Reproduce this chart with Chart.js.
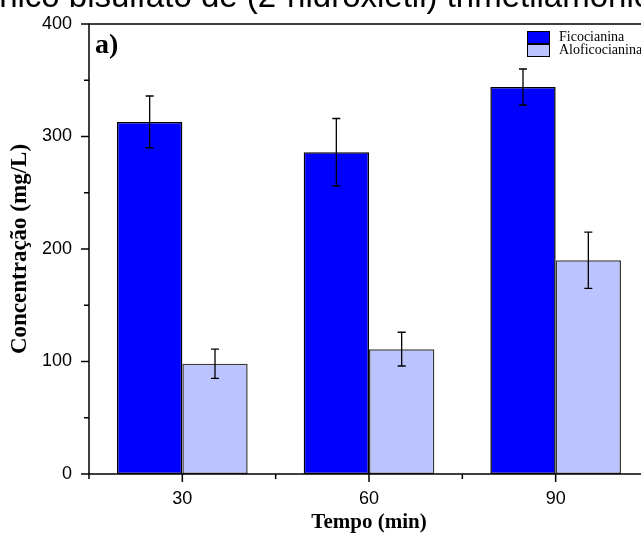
<!DOCTYPE html>
<html>
<head>
<meta charset="utf-8">
<script src="https://cdn.jsdelivr.net/npm/chart.js@4.4.0/dist/chart.umd.min.js"></script>
<style>
  html, body { margin: 0; padding: 0; background: #fff; overflow: hidden; width: 641px; height: 535px; }
  #wrap { position: relative; width: 641px; height: 535px; overflow: hidden; }
  #titulo {
    position: absolute; top: -21px; left: 0; white-space: nowrap;
    font-family: "Liberation Sans", Arial, sans-serif; font-size: 33px; line-height: 33px; color: #000;
  }
  #grafico { position: absolute; left: 0; top: 0; }
</style>
</head>
<body>
<div id="wrap">
  <canvas id="grafico" width="650" height="535"></canvas>
  <div id="titulo"><span id="pre">Líquido iô</span>nico bisulfato de (2-hidroxietil) trimetilamônio</div>
</div>
<script>
// dados
var tempos = ['30', '60', '90'];
var ficocianina = [313, 286, 344];
var ficoErro = [23, 30, 16];
var aloficocianina = [98, 111, 190];
var aloErro = [13, 15, 25];
var yTicks = [0, 100, 200, 300, 400];

var serif = '"Liberation Serif", "Times New Roman", serif';
var sans = '"Liberation Sans", Arial, sans-serif';

// empurra o titulo para a esquerda (so aparece "nico ...")
var pre = document.getElementById('pre');
document.getElementById('titulo').style.left = (-pre.offsetWidth - 1) + 'px';

// barras de erro
var errorBars = {
  id: 'errorBars',
  afterDatasetsDraw: function (chart) {
    var ctx = chart.ctx;
    var y = chart.scales.y;
    var erros = [ficoErro, aloErro];
    ctx.save();
    ctx.strokeStyle = '#000';
    ctx.lineWidth = 1.3;
    chart.data.datasets.forEach(function (ds, d) {
      var meta = chart.getDatasetMeta(d);
      meta.data.forEach(function (bar, i) {
        var v = ds.data[i];
        var top = y.getPixelForValue(v + erros[d][i]);
        var bot = y.getPixelForValue(v - erros[d][i]);
        ctx.beginPath();
        ctx.moveTo(bar.x, top); ctx.lineTo(bar.x, bot);
        ctx.moveTo(bar.x - 4, top); ctx.lineTo(bar.x + 4, top);
        ctx.moveTo(bar.x - 4, bot); ctx.lineTo(bar.x + 4, bot);
        ctx.stroke();
      });
    });
    ctx.restore();
  }
};

// moldura, ticks para fora, legenda e "a)"
var moldura = {
  id: 'moldura',
  afterDraw: function (chart) {
    var ctx = chart.ctx;
    var a = chart.chartArea;
    var x = chart.scales.x, y = chart.scales.y;
    ctx.save();
    ctx.strokeStyle = '#000';
    ctx.lineWidth = 1.5;
    ctx.strokeRect(a.left, a.top, a.right - a.left, a.bottom - a.top);

    ctx.beginPath();
    yTicks.forEach(function (v) {
      var py = y.getPixelForValue(v);
      ctx.moveTo(a.left, py); ctx.lineTo(a.left - 8, py);
      if (v < 400) {
        var pm = y.getPixelForValue(v + 50);
        ctx.moveTo(a.left, pm); ctx.lineTo(a.left - 5, pm);
      }
    });
    tempos.forEach(function (t, i) {
      var px = x.getPixelForValue(i);
      ctx.moveTo(px, a.bottom); ctx.lineTo(px, a.bottom + 8);
      var pm = x.getPixelForValue(i - 0.5);
      ctx.moveTo(pm, a.bottom); ctx.lineTo(pm, a.bottom + 5);
    });
    ctx.stroke();

    // legenda
    var items = chart.data.datasets;
    ctx.lineWidth = 1;
    ctx.font = '14px ' + serif;
    ctx.textBaseline = 'middle';
    ctx.fillStyle = '#000';
    items.forEach(function (ds, i) {
      var ly = 31 + i * 13;
      ctx.fillStyle = ds.backgroundColor;
      ctx.fillRect(527, ly, 22, 12);
      ctx.strokeRect(527.5, ly + 0.5, 22, 12);
      ctx.fillStyle = '#000';
      ctx.fillText(ds.label, 559, ly + 6.5);
    });

    ctx.font = 'bold 28px ' + serif;
    ctx.textBaseline = 'alphabetic';
    ctx.fillText('a)', 95, 53);
    ctx.restore();
  }
};

var ctx = document.getElementById('grafico');
var grafico = new Chart(ctx, {
  type: 'bar',
  data: {
    labels: tempos,
    datasets: [
      {
        label: 'Ficocianina',
        data: ficocianina,
        backgroundColor: '#0000ff',
        borderColor: '#000',
        borderWidth: 1.5,
        borderSkipped: false
      },
      {
        label: 'Aloficocianina',
        data: aloficocianina,
        backgroundColor: '#bbc4ff',
        borderColor: '#3a3a3a',
        borderWidth: 1.5,
        borderSkipped: false
      }
    ]
  },
  options: {
    responsive: false,
    animation: false,
    layout: { padding: { top: 24, right: 1, left: 0, bottom: 0 } },
    plugins: { legend: { display: false }, tooltip: { enabled: false } },
    datasets: { bar: { categoryPercentage: 0.7, barPercentage: 1.0 } },
    scales: {
      x: {
        offset: true,
        grid: { display: false, drawTicks: false },
        border: { display: false },
        ticks: { color: '#000', font: { family: sans, size: 18 }, padding: 14 },
        title: {
          display: true, text: 'Tempo (min)', color: '#000',
          font: { family: serif, size: 21, weight: 'bold' },
          padding: { top: 1, bottom: 0 }
        },
        afterFit: function (s) { s.height = 61; s.paddingLeft = 0; s.paddingRight = 0; }
      },
      y: {
        min: 0, max: 400,
        grid: { display: false, drawTicks: false },
        border: { display: false },
        ticks: { stepSize: 100, color: '#000', font: { family: sans, size: 18 }, padding: 17 },
        title: {
          display: true, text: 'Concentração (mg/L)', color: '#000',
          font: { family: serif, size: 23, weight: 'bold' },
          padding: { top: 6, bottom: 0 }
        },
        afterFit: function (s) { s.width = 89; s.paddingTop = 0; s.paddingBottom = 0; }
      }
    }
  },
  plugins: [errorBars, moldura]
});
</script>
</body>
</html>
